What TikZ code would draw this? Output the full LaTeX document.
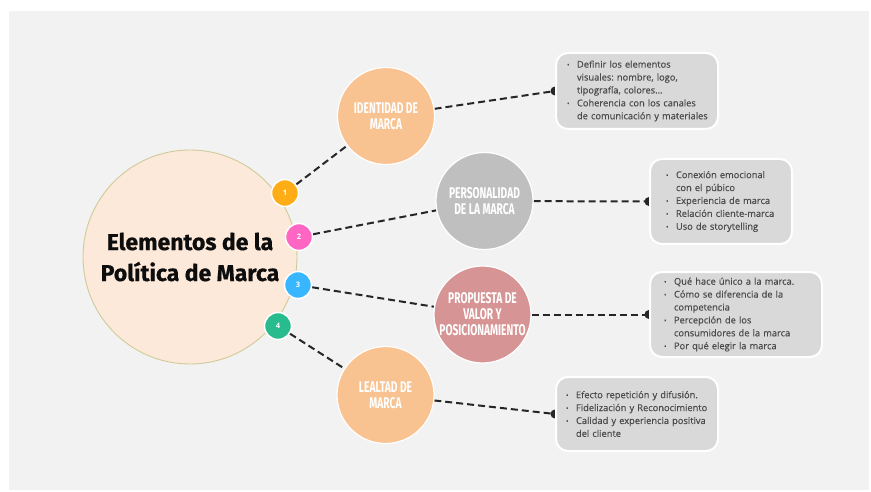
\documentclass[tikz,border=0pt]{standalone}
\usepackage{fontspec}
\setmainfont{Open Sans}
\newfontfamily\boxfont[FakeBold=0.35]{Open Sans}
\newfontfamily\titlefont[FakeBold=0.6]{Fira Sans}
\newfontfamily\condfont[FakeStretch=0.66]{Fira Sans}
\usetikzlibrary{backgrounds}
\definecolor{bggray}{HTML}{F2F2F2}
\definecolor{mainfill}{HTML}{FDE9DA}
\definecolor{mainborder}{HTML}{CFCB98}
\definecolor{peach}{HTML}{F8C291}
\definecolor{graycirc}{HTML}{BFBFBF}
\definecolor{rose}{HTML}{D79494}
\definecolor{boxfill}{HTML}{D9D9D9}
\definecolor{boxtext}{HTML}{4A4A4A}
\definecolor{cone}{HTML}{FFAD16}
\definecolor{ctwo}{HTML}{FF66C4}
\definecolor{cthree}{HTML}{38B6FF}
\definecolor{cfour}{HTML}{27BB8D}
\frenchspacing
\newcommand{\bu}[1]{\mbox{\makebox[10pt][l]{\raisebox{0.6pt}{\scalebox{0.7}{•}}}#1}}
\newcommand{\ct}[1]{\mbox{\makebox[10pt]{}#1}}
\begin{document}
\begin{tikzpicture}[x=1pt,y=-1pt,
  maincirc/.style={circle, minimum size=214pt, fill=mainfill, draw=mainborder, line width=0.9pt,
    font=\titlefont\bfseries\fontsize{23}{31}\selectfont, text=black!95, align=center, inner sep=0pt},
  numc/.style={circle, minimum size=27pt, draw=white, line width=1.5pt, text=white,
    font=\bfseries\fontsize{7.5}{7.5}\selectfont, inner sep=0pt},
  topic/.style={circle, minimum size=97pt, draw=white, line width=1.2pt, text=white,
    font=\condfont\bfseries\fontsize{15.5}{16}\selectfont, align=center, inner sep=0pt},
  infobox/.style={rectangle, rounded corners=12pt, fill=boxfill, draw=white, line width=2pt,
    font=\boxfont\fontsize{9.3}{12.9}\selectfont, text=boxtext, align=left, inner ysep=0pt},
  conn/.style={draw=black!85, line width=2pt, dash pattern=on 7pt off 4pt},
  tipdot/.style={fill=black!85}
]
\useasboundingbox (0,0) rectangle (871,492);

\node[maincirc] (main) at (190,257) {Elementos de la\\Política de Marca};

\node[numc, fill=cone] (n1) at (285,193) {1};
\node[numc, fill=ctwo] (n2) at (299,237) {2};
\node[numc, fill=cthree] (n3) at (298,285) {3};
\node[numc, fill=cfour] (n4) at (278,326) {4};

\node[topic, fill=peach] (t1) at (386,116) {IDENTIDAD DE\\MARCA};
\node[topic, fill=graycirc] (t2) at (484.5,201) {PERSONALIDAD\\DE LA MARCA};
\node[topic, fill=rose] (t3) at (482.5,314.5) {PROPUESTA DE\\VALOR Y\\POSICIONAMIENTO};
\node[topic, fill=peach] (t4) at (385.5,395) {LEALTAD DE\\MARCA};

\node[infobox, minimum width=162pt, minimum height=76pt, inner xsep=11pt, text width=140pt] (b1) at (637,91)
 {\bu{Definir los elementos}\\\ct{visuales: nombre, logo,}\\\ct{tipografía, colores…}\\\bu{Coherencia con los canales}\\\ct{de comunicación y materiales}};
\node[infobox, minimum width=142pt, minimum height=85pt, inner xsep=16pt, text width=110pt] (b2) at (721,201.5)
 {\bu{Conexión emocional}\\\ct{con el púbico}\\\bu{Experiencia de marca}\\\bu{Relación cliente-marca}\\\bu{Uso de storytelling}};
\node[infobox, minimum width=172pt, minimum height=85pt, inner xsep=14pt, text width=144pt] (b3) at (736,314.5)
 {\bu{Qué hace único a la marca.}\\\bu{Cómo se diferencia de la}\\\ct{competencia}\\\bu{Percepción de los}\\\ct{consumidores de la marca}\\\bu{Por qué elegir la marca}};
\node[infobox, minimum width=162pt, minimum height=74pt, inner xsep=10pt, text width=142pt] (b4) at (637,414)
 {\bu{Efecto repetición y difusión.}\\\bu{Fidelización y Reconocimiento}\\\bu{Calidad y experiencia positiva}\\\ct{del cliente}};

\begin{scope}[on background layer]
  \fill[bggray] (9,11) rectangle (869,490);
  \draw[conn] (n1) -- (t1);
  \draw[conn] (n2) -- (t2);
  \draw[conn] (n3) -- (t3);
  \draw[conn] (n4) -- (t4);
  \draw[conn] (t1) -- (b1.west);
  \draw[conn] (t2) -- (b2.west);
  \draw[conn] (t3) -- (b3.west);
  \draw[conn] (t4) -- (b4.west);
  \fill[tipdot] (b1.west) circle (4.5pt);
  \fill[tipdot] (b2.west) circle (4.5pt);
  \fill[tipdot] (b3.west) circle (4.5pt);
  \fill[tipdot] (b4.west) circle (4.5pt);
\end{scope}
\end{tikzpicture}
\end{document}
